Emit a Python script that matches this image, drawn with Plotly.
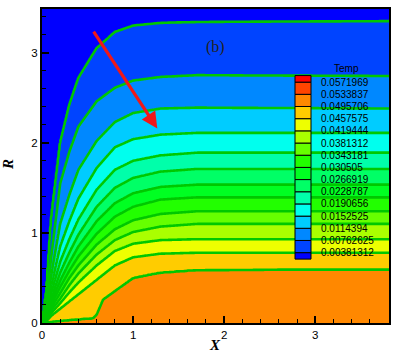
import numpy as np
import plotly.graph_objects as go

# ---- contour levels (legend "Temp") ----
levels = [0.00381312, 0.00762625, 0.0114394, 0.0152525, 0.0190656, 0.0228787,
          0.0266919, 0.030505, 0.0343181, 0.0381312, 0.0419444, 0.0457575,
          0.0495706, 0.0533837, 0.0571969]
level_labels = ["0.00381312", "0.00762625", "0.0114394", "0.0152525", "0.0190656",
                "0.0228787", "0.0266919", "0.030505", "0.0343181", "0.0381312",
                "0.0419444", "0.0457575", "0.0495706", "0.0533837", "0.0571969"]
band_colors = ["#0000ff", "#0044ff", "#0088ff", "#00ccff", "#00ffee", "#00ffaa",
               "#00ff66", "#00ff22", "#22ff00", "#66ff00", "#aaff00", "#eeff00",
               "#ffcc00", "#ff8800", "#ff4400", "#ff0000"]

# ---- contour line positions: R height of each level at X ----
x_cols = [0.0, 0.05, 0.1, 0.2, 0.3, 0.4, 0.6, 0.8, 1.0, 1.3, 1.7, 3.8]
r_lv01 = [0, 0.35, 1.15, 2.00, 2.42, 2.72, 3.05, 3.23, 3.30, 3.33, 3.34, 3.35]
r_lv02 = [0, 0.22, 0.72, 1.55, 1.90, 2.18, 2.46, 2.61, 2.69, 2.73, 2.75, 2.74]
r_lv03 = [0, 0.16, 0.52, 1.10, 1.42, 1.70, 2.02, 2.23, 2.33, 2.38, 2.39, 2.38]
r_lv04 = [0, 0.12, 0.40, 0.85, 1.13, 1.38, 1.72, 1.95, 2.04, 2.09, 2.11, 2.11]
r_lv05 = [0, 0.10, 0.33, 0.68, 0.93, 1.15, 1.48, 1.70, 1.80, 1.86, 1.89, 1.89]
r_lv06 = [0, 0.085, 0.27, 0.56, 0.78, 0.98, 1.29, 1.50, 1.61, 1.68, 1.71, 1.71]
r_lv07 = [0, 0.07, 0.23, 0.47, 0.67, 0.85, 1.13, 1.33, 1.44, 1.51, 1.535, 1.535]
r_lv08 = [0, 0.06, 0.20, 0.40, 0.58, 0.74, 0.99, 1.18, 1.29, 1.37, 1.395, 1.395]
r_lv09 = [0, 0.05, 0.17, 0.33, 0.50, 0.64, 0.87, 1.04, 1.14, 1.21, 1.24, 1.24]
r_lv10 = [0, 0.04, 0.14, 0.27, 0.42, 0.55, 0.76, 0.92, 1.01, 1.07, 1.10, 1.10]
r_lv11 = [0, 0.033, 0.11, 0.22, 0.34, 0.45, 0.64, 0.80, 0.88, 0.92, 0.93, 0.93]
r_lv12 = [0, 0.025, 0.08, 0.16, 0.24, 0.32, 0.48, 0.64, 0.73, 0.77, 0.78, 0.78]
x_lv13 = [0.0, 0.3, 0.56, 0.6, 0.67, 0.82, 1.0, 1.19, 1.3, 1.7, 3.8]
r_lv13 = [0, 0.03, 0.05, 0.09, 0.26, 0.37, 0.50, 0.54, 0.56, 0.59, 0.595]

wall_temp = 0.0515   # value below the last drawn level (orange band)
free_temp = 0.0      # value above the first level (dark blue band)

x_max, r_max = 3.81, 3.485

# ---- build field from the read contour positions ----
line_x = [x_cols] * 12 + [x_lv13]
line_r = [r_lv01, r_lv02, r_lv03, r_lv04, r_lv05, r_lv06, r_lv07, r_lv08,
          r_lv09, r_lv10, r_lv11, r_lv12, r_lv13]
X = np.linspace(0, x_max, 400)
R = np.linspace(0, r_max, 360)
Z = np.empty((len(R), len(X)))
for j, xv in enumerate(X):
    h = np.array([np.interp(xv, lx, lr) for lx, lr in zip(line_x, line_r)])
    xp = np.concatenate(([0.0], h[::-1], [r_max + 1.0]))
    fp = np.concatenate(([wall_temp], np.array(levels[12::-1]), [free_temp]))
    Z[:, j] = np.interp(R, xp, fp)

n = len(band_colors)
colorscale = [[i / (n - 1), c] for i, c in enumerate(band_colors)]
c_size = 0.00381312
c_start = levels[0]
c_end = c_start + (len(levels) - 1 + 0.2) * c_size

fig = go.Figure()
fig.add_trace(go.Contour(
    x=X, y=R, z=Z,
    autocontour=False,
    contours=dict(start=c_start, end=c_end, size=c_size,
                  coloring="fill", showlines=True),
    colorscale=colorscale,
    line=dict(color="#00c800", width=2.6, smoothing=0),
    showscale=False,
    hoverinfo="skip",
))

# ---- layout geometry (pixels) ----
W, H = 410, 355
ml, mr, mt, mb = 42, 21, 7, 32
pw, ph = W - ml - mr, H - mt - mb


def px_x(p):
    return (p - ml) / pw


def px_y(p):
    return (H - mb - p) / ph


tick_font = dict(family="Liberation Sans, Arial", size=11.5, color="black")
axis_common = dict(showline=True, linecolor="black", linewidth=2, mirror=True,
                   ticks="inside", ticklen=7, tickwidth=2, tickcolor="black",
                   showgrid=False, zeroline=False, dtick=1, tick0=0,
                   tickfont=tick_font,
                   minor=dict(ticks="inside", ticklen=4, tickwidth=1,
                              tickcolor="black", dtick=0.2, showgrid=False))

fig.update_layout(
    width=W, height=H,
    margin=dict(l=ml, r=mr, t=mt, b=mb),
    paper_bgcolor="white", plot_bgcolor="white",
    xaxis=dict(range=[0, x_max], **axis_common),
    yaxis=dict(range=[0, r_max], **axis_common),
    showlegend=False,
)

# ---- legend (Tecplot style) ----
leg_x0, leg_x1 = 295, 311
leg_top, leg_bot = 74, 258.7
lab_top, lab_bot = 80.6, 252.2
step = (lab_bot - lab_top) / (len(levels) - 1)
bounds = [leg_bot] + [lab_bot - k * step for k in range(len(levels))] + [leg_top]
shapes = []
for i, c in enumerate(band_colors):
    shapes.append(dict(type="rect", xref="paper", yref="paper",
                       x0=px_x(leg_x0), x1=px_x(leg_x1),
                       y0=px_y(bounds[i]), y1=px_y(bounds[i + 1]),
                       fillcolor=c, line=dict(color="black", width=1)))
fig.update_layout(shapes=shapes)

annotations = []
for k, lab in enumerate(level_labels):
    annotations.append(dict(xref="paper", yref="paper", x=px_x(319), y=px_y(bounds[k + 1]),
                            text=lab, showarrow=False, xanchor="left", yanchor="middle",
                            font=dict(family="Liberation Sans, Arial", size=10, color="black")))
annotations.append(dict(xref="paper", yref="paper", x=px_x(346), y=px_y(67),
                        text="Temp", showarrow=False, xanchor="center", yanchor="middle",
                        font=dict(family="Liberation Sans, Arial", size=10, color="black")))
# panel label and arrow
annotations.append(dict(xref="x", yref="y", x=1.91, y=3.06, text="(b)", showarrow=False,
                        font=dict(family="Liberation Serif, Times New Roman", size=16,
                                  color="#222222")))
annotations.append(dict(xref="x", yref="y", x=1.266, y=2.16, ax=0.556, ay=3.25,
                        axref="x", ayref="y", text="", showarrow=True,
                        arrowhead=2, arrowsize=1.0, arrowwidth=3.2, arrowcolor="#f01818"))
# axis titles
annotations.append(dict(xref="paper", yref="paper", x=px_x(215), y=px_y(345), text="<b><i>X</i></b>",
                        showarrow=False, xanchor="center", yanchor="middle",
                        font=dict(family="Liberation Serif, Times New Roman", size=15, color="black")))
annotations.append(dict(xref="paper", yref="paper", x=px_x(8), y=px_y(164), text="<b><i>R</i></b>",
                        showarrow=False, xanchor="center", yanchor="middle", textangle=-90,
                        font=dict(family="Liberation Serif, Times New Roman", size=15, color="black")))
fig.update_layout(annotations=annotations)

fig.write_html("out.html", config={"displayModeBar": False},
               post_script="document.body.style.margin='0px';")
